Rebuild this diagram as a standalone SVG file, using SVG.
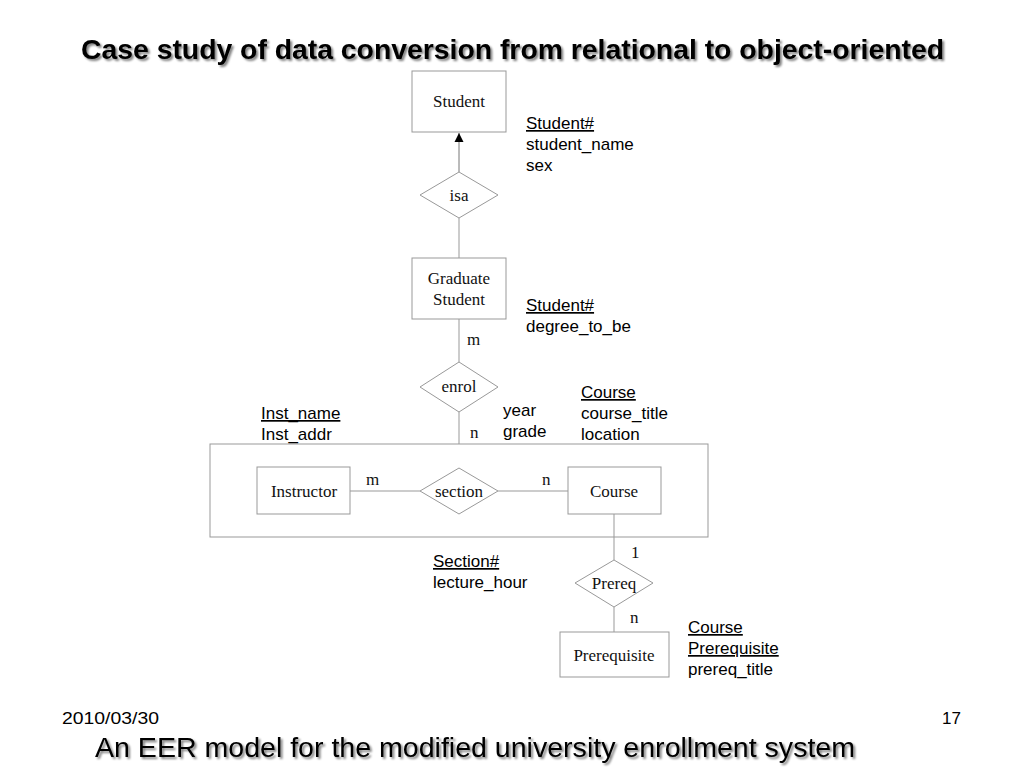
<svg xmlns="http://www.w3.org/2000/svg" width="1024" height="768" viewBox="0 0 1024 768">
<defs>
<marker id="arr" viewBox="0 0 10 10" refX="10" refY="5" markerWidth="9" markerHeight="12" markerUnits="userSpaceOnUse" orient="auto">
<path d="M0,0 L10,5 L0,10 z" fill="#000"/>
</marker>
<filter id="sh" x="-5%" y="-30%" width="110%" height="160%">
<feGaussianBlur in="SourceAlpha" stdDeviation="0.8"/>
<feOffset dx="2" dy="2" result="b"/>
<feComponentTransfer in="b" result="c"><feFuncA type="linear" slope="0.5"/></feComponentTransfer>
<feMerge><feMergeNode in="c"/><feMergeNode in="SourceGraphic"/></feMerge>
</filter>
</defs>
<style>
.box{fill:#fff;stroke:#999;stroke-width:1}
.agg{fill:none;stroke:#999;stroke-width:1}
.dia{fill:#fff;stroke:#999;stroke-width:1}
.ln{stroke:#999;stroke-width:1;fill:none}
.nt{font-family:"Liberation Serif","Times New Roman",serif;font-size:17px;fill:#111;text-anchor:middle}
.lab{font-family:"Liberation Serif","Times New Roman",serif;font-size:17px;fill:#111}
.at{font-family:"Liberation Sans",Arial,sans-serif;font-size:17px;fill:#000}
.u{text-decoration:underline}
.title{font-family:"Liberation Sans",Arial,sans-serif;font-size:27px;font-weight:bold;fill:#000}
.cap{font-family:"Liberation Sans",Arial,sans-serif;font-size:27px;fill:#000}
.ft{font-family:"Liberation Sans",Arial,sans-serif;font-size:17px;fill:#000}
</style>
<rect width="1024" height="768" fill="#fff"/>
<text class="title" x="81" y="59" textLength="863" lengthAdjust="spacingAndGlyphs" filter="url(#sh)">Case study of data conversion from relational to object-oriented</text>

<g id="aggregation"><rect class="agg" x="210" y="444" width="498" height="93"/></g>

<g id="connectors">
<line class="ln" x1="459" y1="172" x2="459" y2="133" marker-end="url(#arr)" style="stroke:#777"/>
<line class="ln" x1="459" y1="218" x2="459" y2="258"/>
<line class="ln" x1="459" y1="319" x2="459" y2="362"/>
<line class="ln" x1="459" y1="412" x2="459" y2="444"/>
<line class="ln" x1="350" y1="491" x2="420" y2="491"/>
<line class="ln" x1="498" y1="491" x2="568" y2="491"/>
<line class="ln" x1="614" y1="514" x2="614" y2="560"/>
<line class="ln" x1="614" y1="607" x2="614" y2="632"/>
<text class="lab" x="467" y="345">m</text>
<text class="lab" x="470" y="438">n</text>
<text class="lab" x="366" y="485">m</text>
<text class="lab" x="542" y="485">n</text>
<text class="lab" x="631" y="558">1</text>
<text class="lab" x="630" y="623">n</text>
</g>

<g id="student"><rect class="box" x="412" y="71" width="94" height="61"/><text class="nt" x="459" y="107">Student</text></g>
<g id="isa"><polygon class="dia" points="459,172 498,195 459,218 420,195"/><text class="nt" x="459" y="201">isa</text></g>
<g id="graduate"><rect class="box" x="412" y="258" width="94" height="61"/><text class="nt" x="459" y="284">Graduate</text><text class="nt" x="459" y="305">Student</text></g>
<g id="enrol"><polygon class="dia" points="459,362 498,387 459,412 420,387"/><text class="nt" x="459" y="392">enrol</text></g>
<g id="instructor"><rect class="box" x="257" y="467" width="93" height="47"/><text class="nt" x="304" y="497">Instructor</text></g>
<g id="section"><polygon class="dia" points="459,468 498,491 459,514 420,491"/><text class="nt" x="459" y="497">section</text></g>
<g id="course"><rect class="box" x="568" y="467" width="93" height="47"/><text class="nt" x="614" y="497">Course</text></g>
<g id="prereq"><polygon class="dia" points="614,560 653,583 614,607 575,583"/><text class="nt" x="614" y="589">Prereq</text></g>
<g id="prerequisite"><rect class="box" x="560" y="632" width="109" height="45"/><text class="nt" x="614" y="661">Prerequisite</text></g>

<g id="attributes">
<text class="at u" x="526" y="129">Student#</text>
<text class="at" x="526" y="150">student_name</text>
<text class="at" x="526" y="171">sex</text>
<text class="at u" x="526" y="311">Student#</text>
<text class="at" x="526" y="332">degree_to_be</text>
<text class="at u" x="581" y="398">Course</text>
<text class="at" x="581" y="419">course_title</text>
<text class="at" x="581" y="440">location</text>
<text class="at" x="503" y="416">year</text>
<text class="at" x="503" y="437">grade</text>
<text class="at u" x="261" y="419">Inst_name</text>
<text class="at" x="261" y="440">Inst_addr</text>
<text class="at u" x="433" y="567">Section#</text>
<text class="at" x="433" y="588">lecture_hour</text>
<text class="at u" x="688" y="633">Course</text>
<text class="at u" x="688" y="654">Prerequisite</text>
<text class="at" x="688" y="675">prereq_title</text>
</g>

<text class="ft" x="62" y="724" textLength="97" lengthAdjust="spacingAndGlyphs">2010/03/30</text>
<text class="ft" x="942" y="724" textLength="19" lengthAdjust="spacingAndGlyphs">17</text>
<text class="cap" x="95" y="757" textLength="760" lengthAdjust="spacingAndGlyphs" filter="url(#sh)">An EER model for the modified university enrollment system</text>
</svg>
